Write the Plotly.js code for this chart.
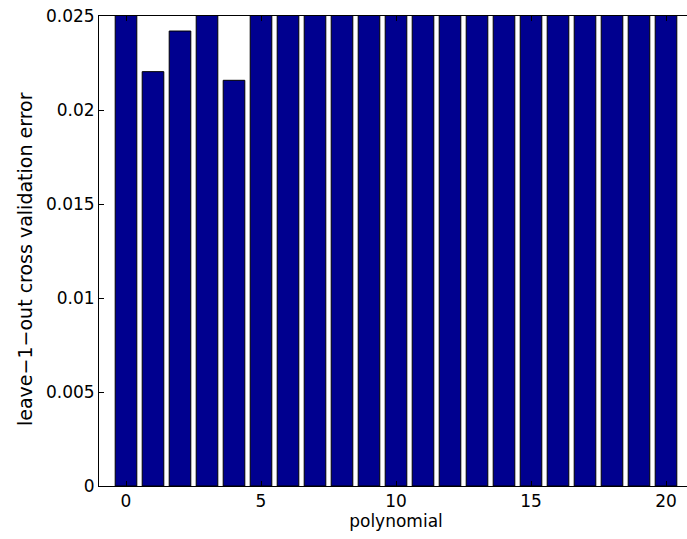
<!DOCTYPE html>
<html>
<head>
<meta charset="utf-8">
<script src="https://cdn.plot.ly/plotly-3.0.1.min.js"></script>
<style>
html,body{margin:0;padding:0;overflow:hidden;background:#fff;}
#chart{width:700px;height:539px;}
</style>
</head>
<body>
<div id="chart"></div>
<script>
const degrees = [0,1,2,3,4,5,6,7,8,9,10,11,12,13,14,15,16,17,18,19,20];
const cvError = [0.031,0.02204,0.02420,0.027,0.02158,0.029,0.033,0.036,0.04,0.045,0.05,0.055,0.06,0.07,0.08,0.09,0.1,0.12,0.14,0.16,0.18];
const yTicks = [0,0.005,0.01,0.015,0.02,0.025];
const yTickLabels = ['0','0.005','0.01','0.015','0.02','0.025'];
const xTicks = [0,5,10,15,20];

const trace = {
  type:'bar', x:degrees, y:cvError, width:0.8,
  marker:{color:'#00008F', line:{color:'#000000', width:1}},
  hoverinfo:'x+y'
};
const font = {family:'"DejaVu Sans", Arial, sans-serif', size:17, color:'#000'};
const yTitleFont = {family:'"DejaVu Sans", Arial, sans-serif', size:19, color:'#000'};
const layout = {
  width:700, height:539,
  margin:{l:99, r:7, t:16, b:53},
  paper_bgcolor:'#fff', plot_bgcolor:'#fff',
  showlegend:false, font:font,
  xaxis:{range:[-1,21], tickvals:xTicks, ticktext:xTicks.map(String), ticks:'inside', ticklen:5, tickcolor:'#000',
    showline:true, linecolor:'#000', linewidth:1, mirror:'ticks', showgrid:false, zeroline:false,
    title:{text:'polynomial', font:font, standoff:2}, tickfont:font},
  yaxis:{range:[0,0.025], tickvals:yTicks, ticktext:yTickLabels, ticks:'inside', ticklen:5, tickcolor:'#000',
    showline:true, linecolor:'#000', linewidth:1, mirror:'ticks', showgrid:false, zeroline:false, tickfont:font},
  annotations:[{text:'leave\u22121\u2212out cross validation error', textangle:-90, showarrow:false,
    xref:'paper', yref:'paper', x:(25-99)/594, y:(486-259)/470, xanchor:'center', yanchor:'middle', font:yTitleFont}]
};
Plotly.newPlot('chart',[trace],layout,{displayModeBar:false, staticPlot:true});
</script>
</body>
</html>
